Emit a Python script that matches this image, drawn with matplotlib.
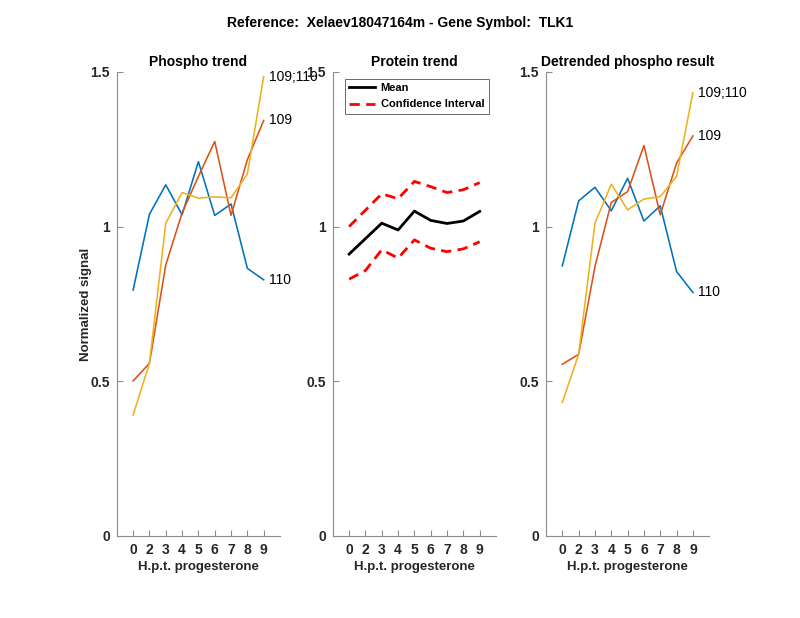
import matplotlib
matplotlib.use("Agg")
import matplotlib.pyplot as plt

plt.rcParams['font.family'] = ['Liberation Sans', 'DejaVu Sans']

# time points (h.p.t. progesterone)
hpt = ['0', '2', '3', '4', '5', '6', '7', '8', '9']

# phospho trend
ph_110 = [0.795, 1.040, 1.135, 1.038, 1.210, 1.036, 1.073, 0.865, 0.828]
ph_109 = [0.501, 0.558, 0.876, 1.044, 1.162, 1.275, 1.036, 1.216, 1.343]
ph_109_110 = [0.391, 0.558, 1.011, 1.110, 1.092, 1.096, 1.093, 1.170, 1.485]

# protein trend
prot_mean = [0.911, 0.961, 1.011, 0.989, 1.050, 1.020, 1.010, 1.018, 1.049]
prot_upper = [1.000, 1.053, 1.106, 1.090, 1.146, 1.129, 1.110, 1.119, 1.142]
prot_lower = [0.830, 0.858, 0.925, 0.898, 0.957, 0.930, 0.919, 0.928, 0.951]

# detrended phospho
dt_110 = [0.873, 1.083, 1.127, 1.051, 1.156, 1.018, 1.067, 0.855, 0.787]
dt_109 = [0.555, 0.587, 0.871, 1.078, 1.113, 1.262, 1.038, 1.205, 1.293]
dt_109_110 = [0.432, 0.587, 1.011, 1.137, 1.054, 1.089, 1.097, 1.162, 1.433]

names = ['110', '109', '109;110']
cols = ['#0072BD', '#D95319', '#EDB120']

AXC = '#8c8c8c'


def styleAx(ax):
    for s in ['top', 'right']:
        ax.spines[s].set_visible(False)
    for s in ['left', 'bottom']:
        ax.spines[s].set_color(AXC)
        ax.spines[s].set_linewidth(0.8)
    ax.set_xlim(0, 10)
    ax.set_ylim(0, 1.5)
    ax.set_xticks(range(1, len(hpt) + 1))
    ax.set_xticklabels(hpt)
    ax.set_yticks([0, 0.5, 1, 1.5])
    ax.set_yticklabels(['0', '0.5', '1', '1.5'])
    ax.tick_params(direction='in', length=4, color=AXC, labelsize=10, pad=5)
    for lab in ax.get_xticklabels() + ax.get_yticklabels():
        lab.set_fontweight('bold')
        lab.set_color('#262626')
    ax.set_xlabel('H.p.t. progesterone', fontsize=9.5, fontweight='bold', color='#262626', labelpad=3)


def phosphoPanel(ax, series, title):
    xs = list(range(1, len(hpt) + 1))
    for ser, nm, c in zip(series, names, cols):
        ax.plot(xs, ser, color=c, lw=1.15)
        ax.text(xs[-1] + 0.3, ser[-1], nm, fontsize=10, va='center', ha='left', clip_on=False)
    ax.set_title(title, fontsize=10, fontweight='bold', pad=4)
    styleAx(ax)


fig = plt.figure(figsize=(8, 6.18), dpi=100)
W, H, B = 0.204, 0.751, 0.1327
ax1 = fig.add_axes([0.146, B, W, H])
ax2 = fig.add_axes([0.416, B, W, H])
ax3 = fig.add_axes([0.6825, B, W, H])

phosphoPanel(ax1, [ph_110, ph_109, ph_109_110], 'Phospho trend')
ax1.set_ylabel('Normalized signal', fontsize=9.5, fontweight='bold', color='#262626', labelpad=-1)

xs = list(range(1, len(hpt) + 1))
ax2.plot(xs, prot_mean, color='black', lw=2, label='Mean')
ax2.plot(xs, prot_upper, color='red', lw=2, ls=(0, (3.7, 2.3)), label='Confidence Interval')
ax2.plot(xs, prot_lower, color='red', lw=2, ls=(0, (3.7, 2.3)))
ax2.set_title('Protein trend', fontsize=10, fontweight='bold', pad=4)
styleAx(ax2)
leg = ax2.legend(loc='upper left', bbox_to_anchor=(0.075, 0.985),
                 prop={'weight': 'bold', 'size': 8}, frameon=True, fancybox=False,
                 handlelength=2.3, borderpad=0.4, labelspacing=0.55, handletextpad=0.5,
                 borderaxespad=0)
leg.get_frame().set_edgecolor('#262626')
leg.get_frame().set_linewidth(0.6)

phosphoPanel(ax3, [dt_110, dt_109, dt_109_110], 'Detrended phospho result')

fig.suptitle('Reference:  Xelaev18047164m - Gene Symbol:  TLK1', fontsize=10,
             fontweight='bold', y=0.963, va='center')

fig.savefig('out.png', dpi=100)
